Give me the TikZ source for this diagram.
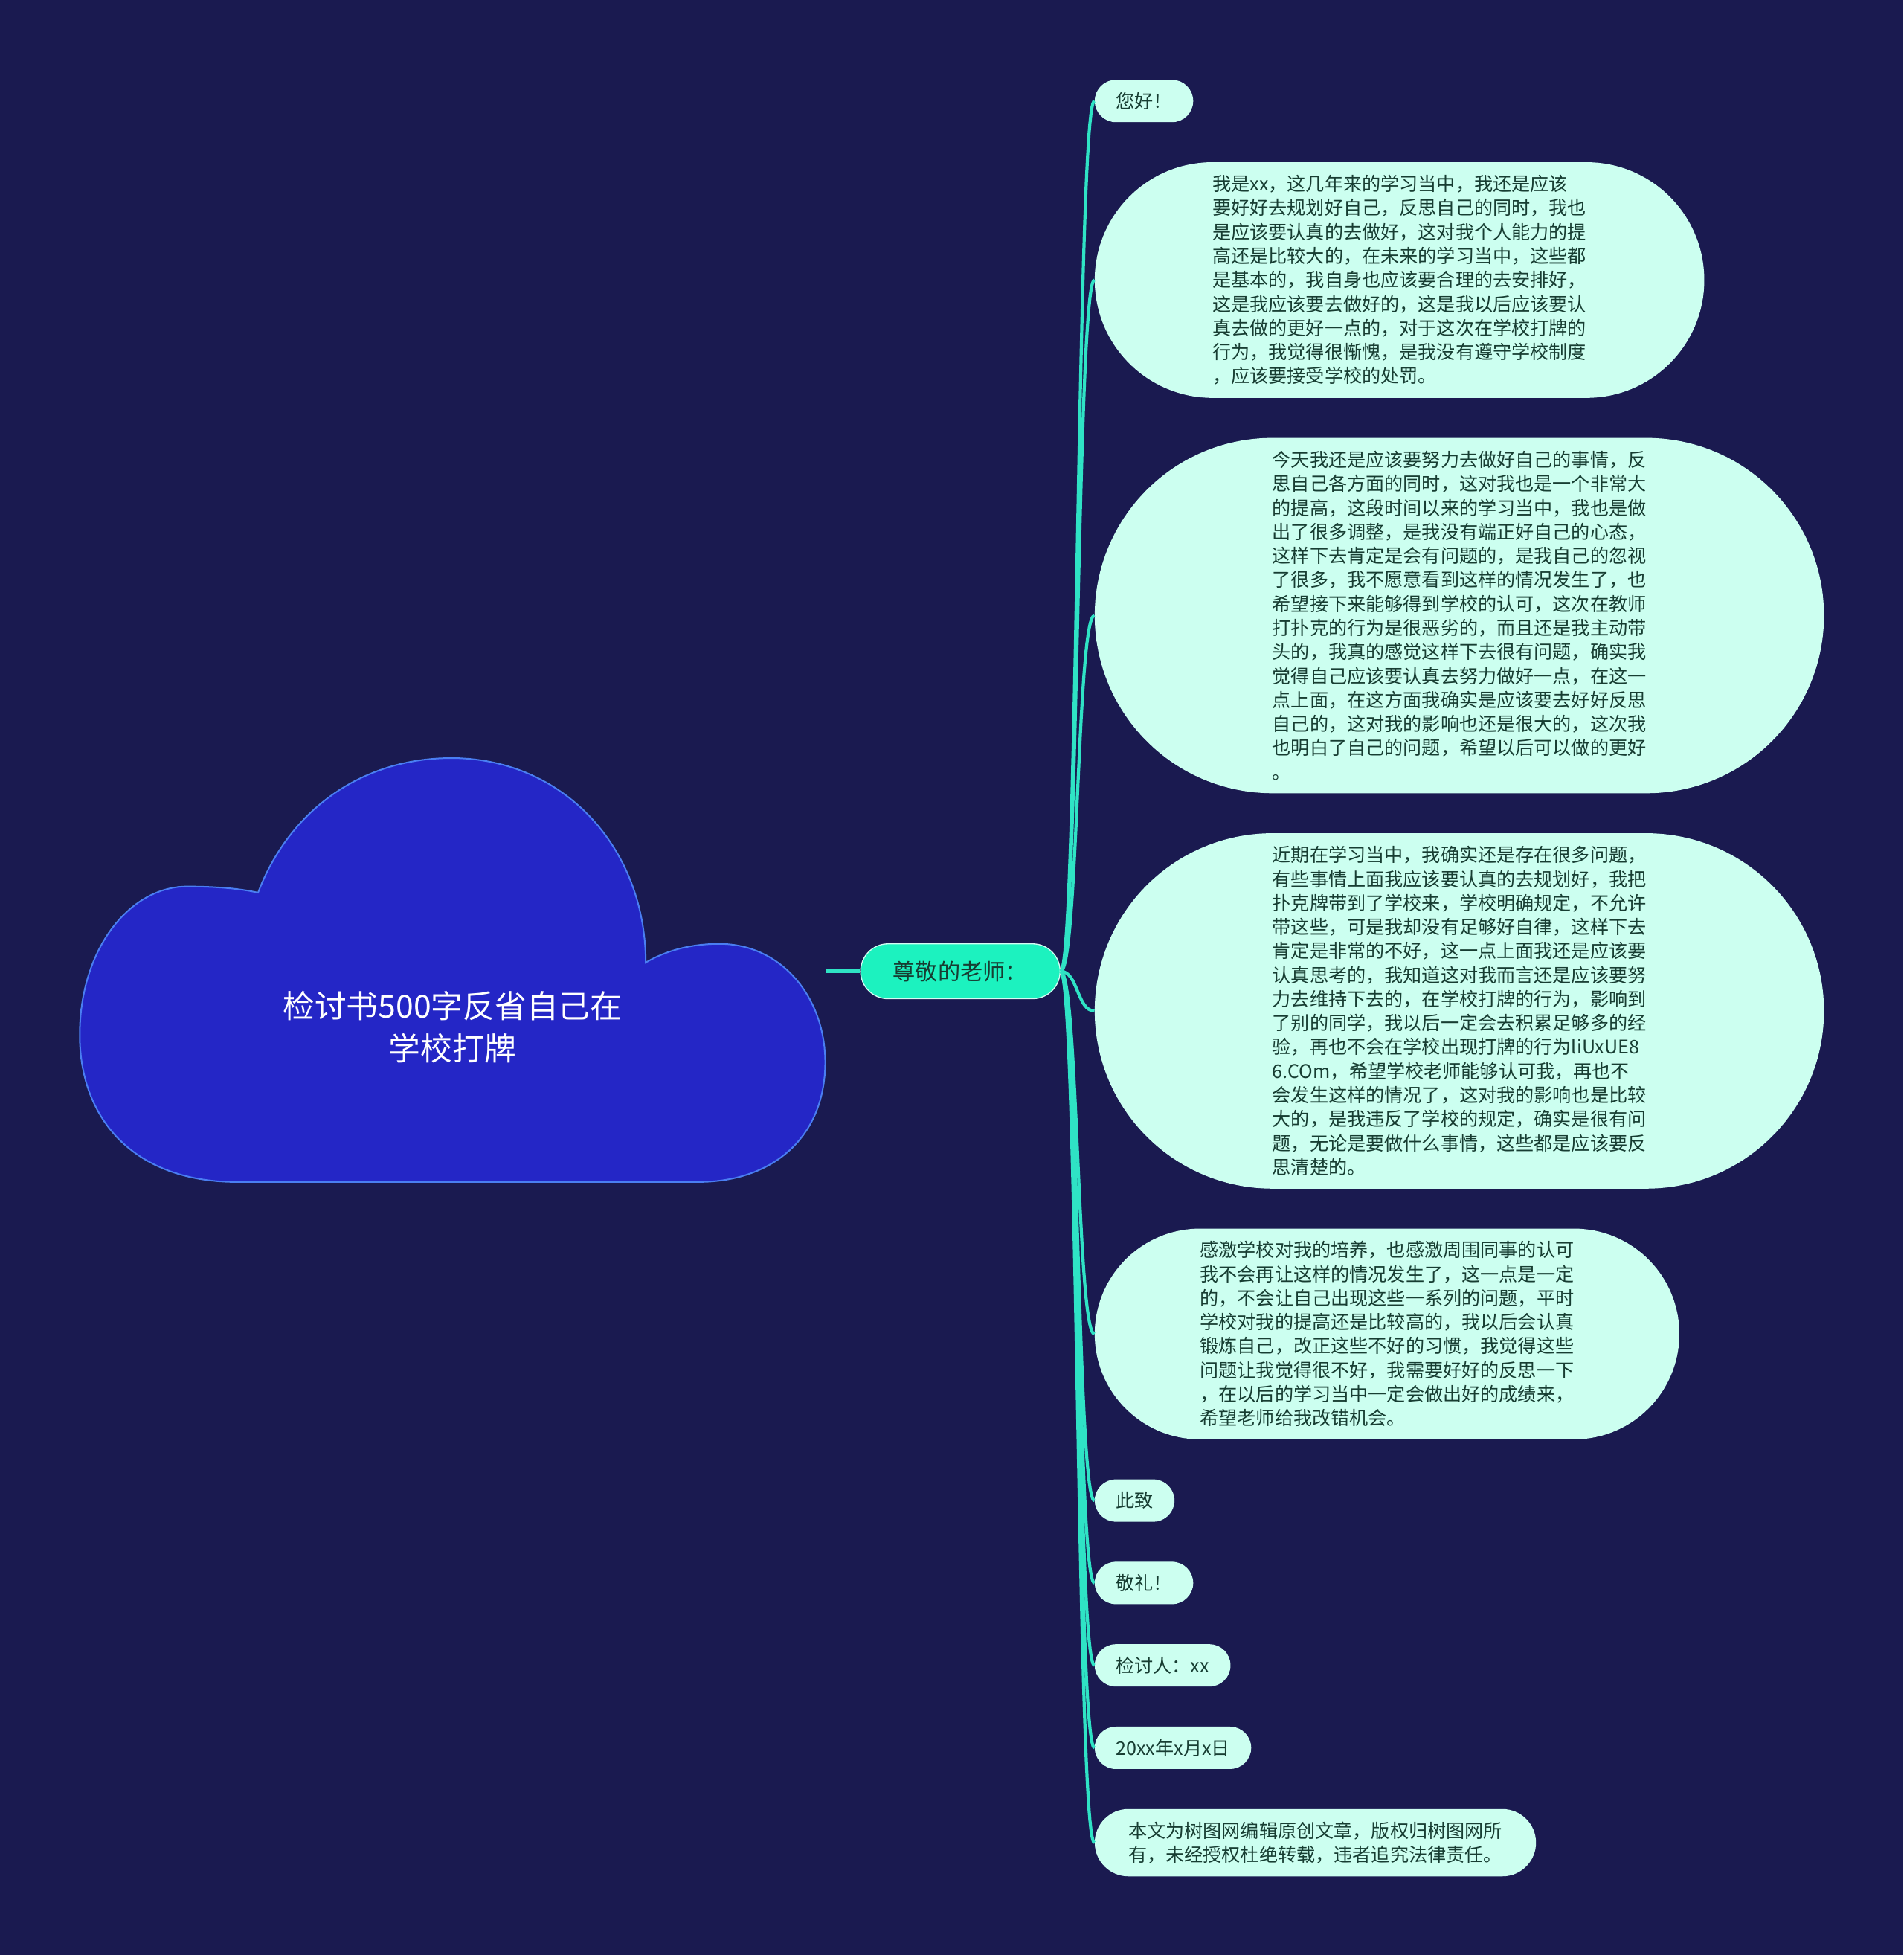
\documentclass[tikz,border=0pt]{standalone}
\usepackage{fontspec}
\newfontfamily\cjk{Noto Sans CJK SC}
\usetikzlibrary{positioning}
\definecolor{bgnavy}{HTML}{1A1A50}
\definecolor{cloudfill}{HTML}{2426C6}
\definecolor{cloudline}{HTML}{4A7EF2}
\definecolor{mintleaf}{HTML}{CCFFF0}
\definecolor{mainmint}{HTML}{1CF2BF}
\definecolor{branchteal}{HTML}{2FE3C5}
\definecolor{inkgreen}{HTML}{173D32}
\tikzset{title/.style={text=white, font=\cjk\fontsize{25.5}{34}\selectfont, align=center},
	mainbox/.style={fill=mainmint, draw=white!80!mainmint, line width=0.8pt,
		rounded corners=22pt, minimum height=44pt, inner xsep=26pt, inner ysep=0pt,
		text=inkgreen, font=\cjk\fontsize{18}{22}\selectfont},
	leafpill/.style={fill=mintleaf, rounded corners=17pt, minimum height=34pt,
		inner xsep=17pt, inner ysep=0pt, text=inkgreen, font=\cjk\fontsize{15}{19.25}\selectfont},
	leafbox/.style={leafpill, text width=300pt, align=left,
		minimum height=2*#1, inner xsep=#1, rounded corners=#1},
	branch/.style={draw=branchteal, line width=2.5pt},
}

\begin{document}
\begin{tikzpicture}[x=1pt, y=-1pt]
		\path [use as bounding box, fill=bgnavy] (0,0) rectangle (1527,1568);
		% cloud
		\filldraw[fill=cloudfill, draw=cloudline, line width=1.2pt] (190,948) .. controls (110,948) and (64,900) .. (64,830)
			.. controls (64,760) and (105,711) .. (150,711) .. controls (175,711) and (195,713) .. (207,716)
			.. controls (232,650) and (290,608) .. (362,608) .. controls (452,608) and (518,680) .. (518,772)
			.. controls (535,762) and (555,757) .. (577,757) .. controls (627,757) and (662,800) .. (662,852)
			.. controls (662,912) and (620,948) .. (560,948) -- cycle;
		\node[title, minimum width=598pt] (root) at (363,824) {检讨书500字反省自己在\\学校打牌};
		\node[mainbox, anchor=west] (teacher) at (690,779) {尊敬的老师：};
		\draw[branch, line width=3pt] (root.east |- teacher.west) -- (teacher.west);
		% leaves
		\node[leafpill, anchor=west] (hello) at (878,81) {您好！};
		\node[leafbox=94.5pt, below=31.7pt of hello.south west, anchor=north west] (para1) {我是xx，这几年来的学习当中，我还是应该\\要好好去规划好自己，反思自己的同时，我也\\是应该要认真的去做好，这对我个人能力的提\\高还是比较大的，在未来的学习当中，这些都\\是基本的，我自身也应该要合理的去安排好，\\这是我应该要去做好的，这是我以后应该要认\\真去做的更好一点的，对于这次在学校打牌的\\行为，我觉得很惭愧，是我没有遵守学校制度\\，应该要接受学校的处罚。};
		\node[leafbox=142.5pt, below=31.7pt of para1.south west, anchor=north west] (para2) {今天我还是应该要努力去做好自己的事情，反\\思自己各方面的同时，这对我也是一个非常大\\的提高，这段时间以来的学习当中，我也是做\\出了很多调整，是我没有端正好自己的心态，\\这样下去肯定是会有问题的，是我自己的忽视\\了很多，我不愿意看到这样的情况发生了，也\\希望接下来能够得到学校的认可，这次在教师\\打扑克的行为是很恶劣的，而且还是我主动带\\头的，我真的感觉这样下去很有问题，确实我\\觉得自己应该要认真去努力做好一点，在这一\\点上面，在这方面我确实是应该要去好好反思\\自己的，这对我的影响也还是很大的，这次我\\也明白了自己的问题，希望以后可以做的更好\\。};
		\node[leafbox=142.5pt, below=31.7pt of para2.south west, anchor=north west] (para3) {近期在学习当中，我确实还是存在很多问题，\\有些事情上面我应该要认真的去规划好，我把\\扑克牌带到了学校来，学校明确规定，不允许\\带这些，可是我却没有足够好自律，这样下去\\肯定是非常的不好，这一点上面我还是应该要\\认真思考的，我知道这对我而言还是应该要努\\力去维持下去的，在学校打牌的行为，影响到\\了别的同学，我以后一定会去积累足够多的经\\验，再也不会在学校出现打牌的行为liUxUE8\\6.COm，希望学校老师能够认可我，再也不\\会发生这样的情况了，这对我的影响也是比较\\大的，是我违反了学校的规定，确实是很有问\\题，无论是要做什么事情，这些都是应该要反\\思清楚的。};
		\node[leafbox=84.5pt, below=31.7pt of para3.south west, anchor=north west] (para4) {感激学校对我的培养，也感激周围同事的认可\\我不会再让这样的情况发生了，这一点是一定\\的，不会让自己出现这些一系列的问题，平时\\学校对我的提高还是比较高的，我以后会认真\\锻炼自己，改正这些不好的习惯，我觉得这些\\问题让我觉得很不好，我需要好好的反思一下\\，在以后的学习当中一定会做出好的成绩来，\\希望老师给我改错机会。};
		\node[leafpill, below=31.7pt of para4.south west, anchor=north west] (regards) {此致};
		\node[leafpill, below=31.7pt of regards.south west, anchor=north west] (salute) {敬礼！};
		\node[leafpill, below=31.7pt of salute.south west, anchor=north west] (signer) {检讨人：xx};
		\node[leafpill, below=31.7pt of signer.south west, anchor=north west] (date) {20xx年x月x日};
		\node[leafbox=27pt, below=31.7pt of date.south west, anchor=north west] (notice) {本文为树图网编辑原创文章，版权归树图网所\\有，未经授权杜绝转载，违者追究法律责任。};
		\foreach \leaf in {hello,para1,para2,para3,para4,regards,salute,signer,date,notice}
			\draw[branch] (teacher.east) .. controls +(14,0) and +(-14,0) .. (\leaf.west);
\end{tikzpicture}
\end{document}
